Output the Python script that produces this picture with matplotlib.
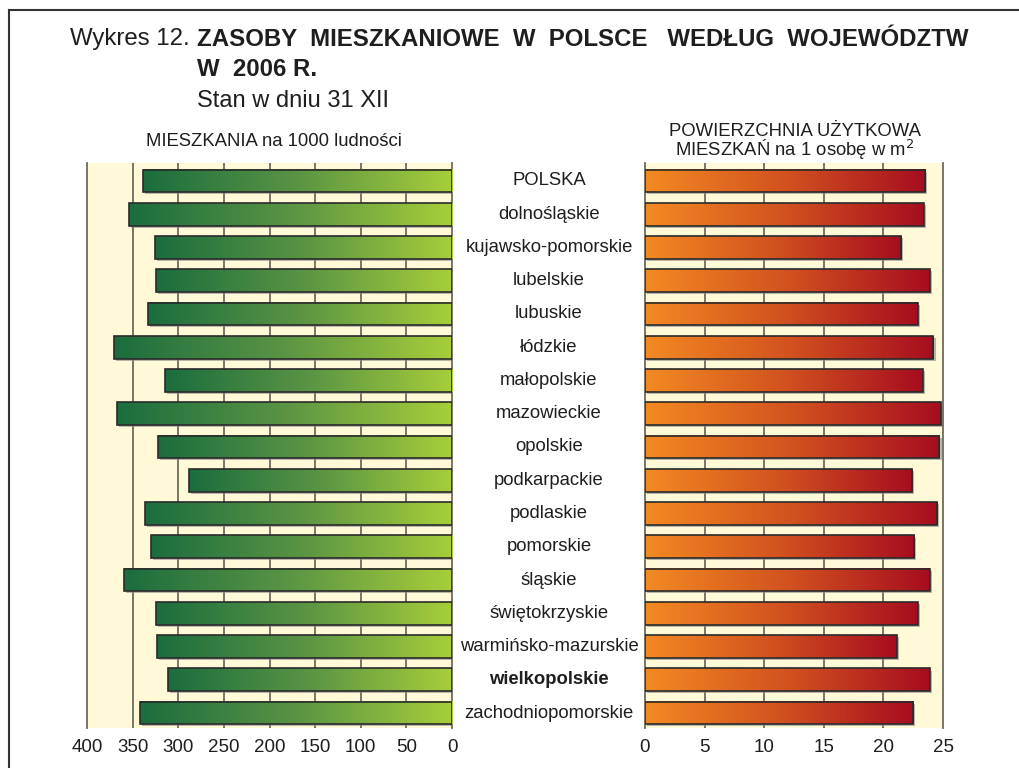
import numpy as np
import matplotlib
matplotlib.use("Agg")
import matplotlib.pyplot as plt
from matplotlib.patches import Rectangle
from matplotlib.colors import LinearSegmentedColormap
import matplotlib.transforms as mtransforms
import matplotlib.patheffects as pe

plt.rcParams['font.family'] = ['Liberation Sans', 'DejaVu Sans']

regions = ["POLSKA", "dolnośląskie", "kujawsko-pomorskie", "lubelskie", "lubuskie",
           "łódzkie", "małopolskie", "mazowieckie", "opolskie", "podkarpackie",
           "podlaskie", "pomorskie", "śląskie", "świętokrzyskie",
           "warmińsko-mazurskie", "wielkopolskie", "zachodniopomorskie"]
dwellings_per_1000 = [339, 354, 326, 324, 333, 370, 315, 367, 322, 288,
                      336, 330, 359, 324, 323, 311, 342]
floor_area_per_person = [23.5, 23.4, 21.5, 23.9, 22.9, 24.2, 23.3, 24.8, 24.7, 22.4,
                         24.5, 22.6, 23.9, 22.9, 21.1, 23.9, 22.5]
left_ticks = [400, 350, 300, 250, 200, 150, 100, 50, 0]
right_ticks = [0, 5, 10, 15, 20, 25]
bold_region = "wielkopolskie"

CREAM = "#fff9d8"
GRID = "#6e6a5e"
EDGE = "#2a2a2a"
TXT = "#1e1e1e"
green_cmap = LinearSegmentedColormap.from_list("g", ["#1b6d3e", "#5a9444", "#a7ce3a"])
orange_cmap = LinearSegmentedColormap.from_list("o", ["#f38a22", "#d2521f", "#a60d20"])

W, H = 1019, 768
fig = plt.figure(figsize=(W / 100, H / 100), dpi=100)

def fx(px):
    return px / W

def fy(py):
    return 1 - py / H

axL = fig.add_axes([fx(87), fy(728), fx(452) - fx(87), fy(163) - fy(728)])
axR = fig.add_axes([fx(645), fy(728), fx(943) - fx(645), fy(163) - fy(728)])

n = len(regions)
ypos = np.arange(n)
bh = 0.68
grad = np.linspace(0, 1, 256).reshape(1, -1)

def draw_panel(ax, vals, cmap, xlim, ticks):
    ax.set_facecolor(CREAM)
    for t in ticks:
        if t not in xlim:
            ax.axvline(t, color=GRID, lw=1.3, zorder=1)
    for y, v in zip(ypos, vals):
        base = Rectangle((0, y - bh / 2), v, bh, facecolor="#777", edgecolor="none", zorder=2,
                         path_effects=[pe.withSimplePatchShadow(offset=(1.5, -1.5), shadow_rgbFace="#8a8a8a", alpha=0.6)])
        ax.add_patch(base)
        if xlim[0] > xlim[1]:
            ext = (v, 0, y + bh / 2, y - bh / 2)
        else:
            ext = (0, v, y + bh / 2, y - bh / 2)
        ax.imshow(grad, cmap=cmap, extent=ext, aspect="auto", zorder=3, interpolation="bilinear")
        ax.add_patch(Rectangle((0, y - bh / 2), v, bh, facecolor="none", edgecolor=EDGE, lw=1.2, zorder=4))
    ax.set_xlim(*xlim)
    ax.set_ylim(n - 0.55, -0.54)
    ax.set_xticks(ticks)
    ax.set_xticklabels([str(t) for t in ticks], fontsize=13.5)
    ax.set_yticks([])
    ax.tick_params(axis="x", length=0, pad=8, colors=TXT)
    for s in ["top", "bottom"]:
        ax.spines[s].set_visible(False)
    for s in ["left", "right"]:
        ax.spines[s].set_color(GRID)
        ax.spines[s].set_linewidth(1.3)

draw_panel(axL, dwellings_per_1000, green_cmap, (400, 0), left_ticks)
draw_panel(axR, floor_area_per_person, orange_cmap, (0, 25), right_ticks)

# category labels
tr = mtransforms.blended_transform_factory(fig.transFigure, axL.transData)
for y, name in zip(ypos, regions):
    fig.text(fx(549), y, name, transform=tr, ha="center", va="center", fontsize=13.3,
             color=TXT, fontweight="bold" if name == bold_region else "normal")

# titles
fig.text(fx(70), fy(39), "Wykres 12.", fontsize=17.3, va="center", ha="left", color=TXT)
fig.text(fx(197), fy(39), "ZASOBY  MIESZKANIOWE  W  POLSCE   WEDŁUG  WOJEWÓDZTW",
         fontsize=17.3, fontweight="bold", va="center", ha="left", color=TXT)
fig.text(fx(197), fy(69), "W  2006 R.", fontsize=17.3, fontweight="bold", va="center", ha="left", color=TXT)
fig.text(fx(197), fy(101), "Stan w dniu 31 XII", fontsize=17, va="center", ha="left", color=TXT)

fig.text(fx(274), fy(141), "MIESZKANIA na 1000 ludności", fontsize=13.3, ha="center", va="center", color=TXT)
fig.text(fx(795), fy(131), "POWIERZCHNIA UŻYTKOWA", fontsize=13.3, ha="center", va="center", color=TXT)
fig.text(fx(795), fy(150), "MIESZKAŃ na 1 osobę w m$^2$", fontsize=13.3, ha="center", va="center", color=TXT)

# frame lines
fig.add_artist(plt.Line2D([fx(9), 1], [fy(10), fy(10)], transform=fig.transFigure, color="#333", lw=1.5))
fig.add_artist(plt.Line2D([fx(9), fx(9)], [fy(10), 0], transform=fig.transFigure, color="#333", lw=1.5))

fig.savefig("out.png", dpi=100)
